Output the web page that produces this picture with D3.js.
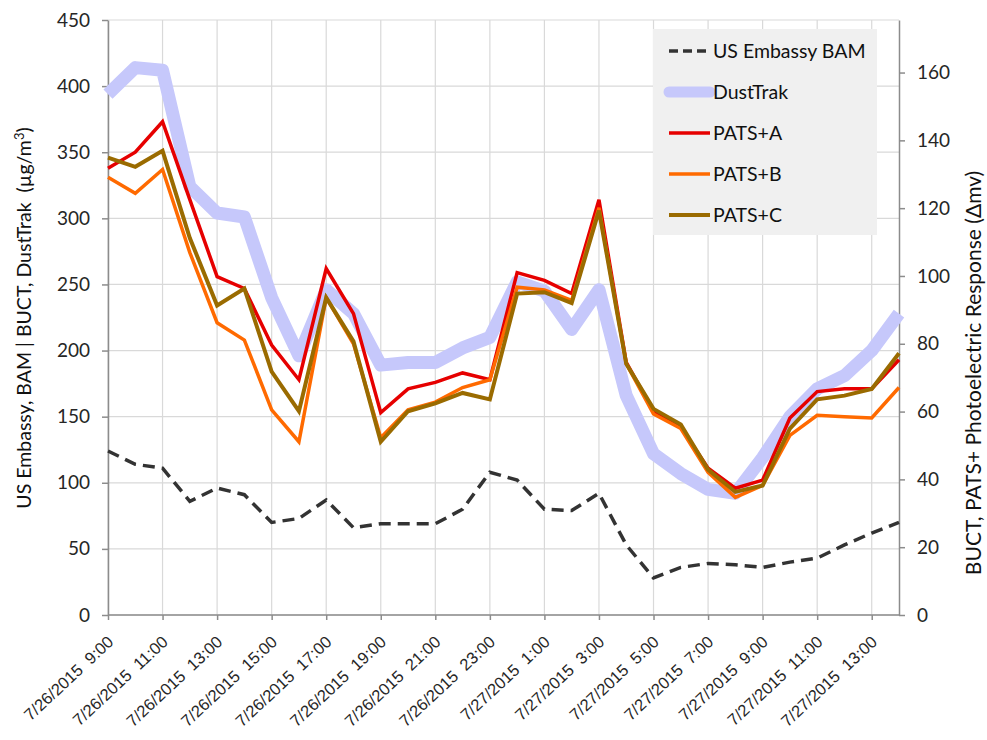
<!DOCTYPE html>
<html>
<head>
<meta charset="utf-8">
<script src="https://cdn.jsdelivr.net/npm/d3@7"></script>
<style>
  body { margin: 0; background: #fff; }
  svg { display: block; font-family: Lato, "Open Sans", sans-serif; }
  .xlab { font-family: "Liberation Sans", Arial, sans-serif; white-space: pre; }
</style>
</head>
<body>
<svg id="chart" width="987" height="740"></svg>
<script>
// hourly timestamps
const times = [
  "7/26/2015 9:00", "7/26/2015 10:00", "7/26/2015 11:00", "7/26/2015 12:00", "7/26/2015 13:00",
  "7/26/2015 14:00", "7/26/2015 15:00", "7/26/2015 16:00", "7/26/2015 17:00", "7/26/2015 18:00",
  "7/26/2015 19:00", "7/26/2015 20:00", "7/26/2015 21:00", "7/26/2015 22:00", "7/26/2015 23:00",
  "7/27/2015 0:00", "7/27/2015 1:00", "7/27/2015 2:00", "7/27/2015 3:00", "7/27/2015 4:00",
  "7/27/2015 5:00", "7/27/2015 6:00", "7/27/2015 7:00", "7/27/2015 8:00", "7/27/2015 9:00",
  "7/27/2015 10:00", "7/27/2015 11:00", "7/27/2015 12:00", "7/27/2015 13:00", "7/27/2015 14:00"
];
const xTickLabels = [
  "7/26/2015 9:00", "7/26/2015 11:00", "7/26/2015 13:00", "7/26/2015 15:00", "7/26/2015 17:00",
  "7/26/2015 19:00", "7/26/2015 21:00", "7/26/2015 23:00", "7/27/2015 1:00", "7/27/2015 3:00",
  "7/27/2015 5:00", "7/27/2015 7:00", "7/27/2015 9:00", "7/27/2015 11:00", "7/27/2015 13:00"
];

// left axis (ug/m3)
const bam = [124, 114, 111, 86, 96, 91, 70, 73, 87, 66, 69, 69, 69, 80, 108,
             102, 80, 79, 92, 53, 28, 36, 39, 38, 36, 40, 43, 53, 62, 70];
const dustTrak = [394, 414, 412, 324, 304, 301, 240, 196, 246, 228, 189, 191, 191, 202, 210,
                  252, 245, 216, 246, 166, 122, 107, 95, 92, 119, 150, 171, 181, 200, 228];

// right axis (delta mv)
const patsA = [131.8, 136.5, 145.5, 122.5, 99.8, 96.3, 79.6, 69.4, 102.2, 88.9, 59.7, 66.7, 68.6, 71.4, 69.4,
               101.0, 98.7, 94.8, 122.5, 74.5, 60.1, 55.4, 43.3, 37.4, 39.8, 58.1, 65.9, 66.7, 66.7, 75.3];
const patsB = [129.1, 124.4, 131.4, 106.9, 86.2, 81.1, 60.5, 51.1, 93.6, 80.0, 52.3, 60.5, 62.8, 67.1, 69.4,
               96.7, 95.9, 92.8, 120.1, 74.1, 59.3, 55.0, 42.1, 34.7, 38.2, 53.0, 58.9, 58.5, 58.1, 67.1];
const patsC = [134.9, 132.2, 136.9, 111.2, 91.3, 96.3, 71.8, 60.1, 93.6, 80.7, 51.1, 60.1, 62.4, 65.5, 63.6,
               94.8, 95.2, 92.0, 119.3, 74.1, 60.8, 56.2, 42.9, 36.3, 38.2, 55.0, 63.6, 64.7, 66.7, 77.2];

const leftTicks = [0, 50, 100, 150, 200, 250, 300, 350, 400, 450];
const rightTicks = [0, 20, 40, 60, 80, 100, 120, 140, 160];

const seriesNames = ["US Embassy BAM", "DustTrak", "PATS+A", "PATS+B", "PATS+C"];

//chart geometry
const svg = d3.select("#chart");
const plotLeft = 108, plotRight = 899, plotTop = 20, plotBottom = 615;

const xScale = d3.scalePoint().domain(times).range([plotLeft, plotRight]);
const yLeft = d3.scaleLinear().domain([0, 450]).range([plotBottom, plotTop]);
const yRight = d3.scaleLinear().domain([0, 175.5]).range([plotBottom, plotTop]);

svg.append("rect").attr("width", 987).attr("height", 740).attr("fill", "#fff");

//grid
const grid = svg.append("g").attr("id", "grid");
grid.selectAll("line.h").data(leftTicks).join("line")
    .attr("class", "h")
    .attr("x1", plotLeft).attr("x2", plotRight)
    .attr("y1", d => yLeft(d)).attr("y2", d => yLeft(d))
    .attr("stroke", "#d9d9d9").attr("stroke-width", 1.2);
grid.selectAll("line.v").data(xTickLabels).join("line")
    .attr("class", "v")
    .attr("x1", d => xScale(d)).attr("x2", d => xScale(d))
    .attr("y1", plotTop).attr("y2", plotBottom)
    .attr("stroke", "#d9d9d9").attr("stroke-width", 1.2);

//axes
function styleAxis(g){
    g.select(".domain").attr("stroke", "#8c8c8c").attr("stroke-width", 1.5);
    g.selectAll(".tick line").attr("stroke", "#8c8c8c").attr("stroke-width", 1.5);
    g.selectAll(".tick text").attr("fill", "#262626");
}

svg.append("g")
    .attr("transform", `translate(${plotLeft},0)`)
    .call(d3.axisLeft(yLeft).tickValues(leftTicks).tickSize(6).tickSizeOuter(0).tickPadding(12))
    .call(styleAxis)
    .selectAll(".tick text")
    .attr("font-family", "Lato, sans-serif")
    .attr("font-size", 19);

svg.append("g")
    .attr("transform", `translate(${plotRight},0)`)
    .call(d3.axisRight(yRight).tickValues(rightTicks).tickSize(6).tickSizeOuter(0).tickPadding(12))
    .call(styleAxis)
    .selectAll(".tick text")
    .attr("font-family", "Lato, sans-serif")
    .attr("font-size", 19);

const xAxis = svg.append("g")
    .attr("transform", `translate(0,${plotBottom})`)
    .call(d3.axisBottom(xScale).tickValues(xTickLabels).tickSize(5).tickSizeOuter(0).tickFormat(d => d.replace(" ", "  ")))
    .call(styleAxis);
xAxis.select(".domain").attr("d", `M${plotLeft},0H${plotRight}`);
xAxis.selectAll(".tick text")
    .attr("class", "xlab")
    .attr("font-size", 16.5)
    .attr("text-anchor", "end")
    .attr("dy", "0.35em")
    .attr("transform", "translate(2,24) rotate(-43)")
    .attr("x", 0).attr("y", 0);

//series
const line = (scale) => d3.line()
    .x((d, i) => xScale(times[i]))
    .y(d => scale(d));

const plot = svg.append("g").attr("id", "series");
plot.append("path").datum(dustTrak)
    .attr("fill", "none").attr("stroke", "#c6c8fb").attr("stroke-width", 13)
    .attr("stroke-linejoin", "round").attr("d", line(yLeft));
plot.append("path").datum(bam)
    .attr("fill", "none").attr("stroke", "#333").attr("stroke-width", 3.5)
    .attr("stroke-dasharray", "12,7").attr("d", line(yLeft));
plot.append("path").datum(patsA)
    .attr("fill", "none").attr("stroke", "#e60000").attr("stroke-width", 3.5)
    .attr("d", line(yRight));
plot.append("path").datum(patsB)
    .attr("fill", "none").attr("stroke", "#ff6a00").attr("stroke-width", 3.5)
    .attr("d", line(yRight));
plot.append("path").datum(patsC)
    .attr("fill", "none").attr("stroke", "#9a6b00").attr("stroke-width", 4)
    .attr("d", line(yRight));

//legend
const legendStyles = [
    {stroke: "#333", width: 3.5, dash: "9,5"},
    {stroke: "#c6c8fb", width: 11, dash: null},
    {stroke: "#e60000", width: 3.5, dash: null},
    {stroke: "#ff6a00", width: 3.5, dash: null},
    {stroke: "#9a6b00", width: 4, dash: null}
];
const legend = svg.append("g").attr("id", "legend");
legend.append("rect")
    .attr("x", 653).attr("y", 29).attr("width", 224).attr("height", 206)
    .attr("fill", "#f0f0f0");
const items = legend.selectAll("g.item").data(seriesNames).join("g")
    .attr("class", "item")
    .attr("transform", (d, i) => `translate(0,${51 + i * 41})`);
items.append("line")
    .attr("x1", 669).attr("x2", 710).attr("y1", 0).attr("y2", 0)
    .attr("stroke", (d, i) => legendStyles[i].stroke)
    .attr("stroke-width", (d, i) => legendStyles[i].width)
    .attr("stroke-linecap", (d, i) => i === 1 ? "round" : "butt")
    .attr("stroke-dasharray", (d, i) => legendStyles[i].dash);
items.append("text")
    .attr("x", 713).attr("y", 0).attr("dy", "0.35em")
    .attr("font-size", 19.5).attr("fill", "#111")
    .text(d => d);

//axis titles
svg.append("text")
    .attr("transform", "translate(31,318) rotate(-90)")
    .attr("text-anchor", "middle")
    .attr("font-size", 19.5).attr("fill", "#111")
    .style("white-space", "pre")
    .html("US Embassy, BAM | BUCT, DustTrak  (µg/m<tspan dy='-7' font-size='13'>3</tspan><tspan dy='7'>)</tspan>");
svg.append("text")
    .attr("transform", "translate(981,373) rotate(-90)")
    .attr("text-anchor", "middle")
    .attr("font-size", 21).attr("fill", "#111")
    .text("BUCT, PATS+ Photoelectric Response (Δmv)");
</script>
</body>
</html>
